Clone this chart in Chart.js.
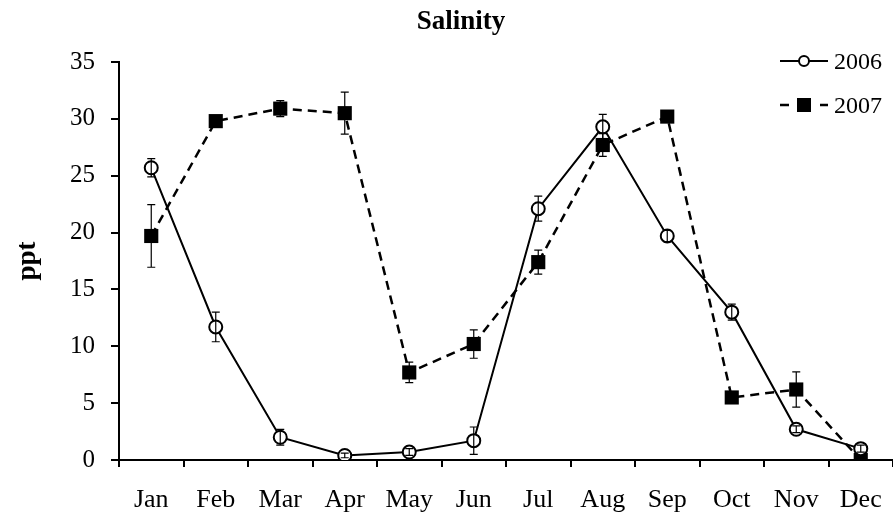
<!DOCTYPE html>
<html>
<head>
<meta charset="utf-8">
<style>
  html, body { margin: 0; padding: 0; background: #fff; }
  #wrap { width: 893px; height: 513px; }
</style>
</head>
<body>
<div id="wrap"><canvas id="salinityChart"></canvas></div>
<script src="https://cdn.jsdelivr.net/npm/chart.js"></script>
<script>
const months = ['Jan', 'Feb', 'Mar', 'Apr', 'May', 'Jun', 'Jul', 'Aug', 'Sep', 'Oct', 'Nov', 'Dec'];
const sal2006 = [25.7, 11.7, 2.0, 0.4, 0.7, 1.7, 22.1, 29.3, 19.7, 13.0, 2.7, 1.0];
const err2006 = [0.8, 1.3, 0.7, 0.2, 0.3, 1.2, 1.1, 1.1, 0.5, 0.7, 0.3, 0.3];
const sal2007 = [19.7, 29.8, 30.9, 30.5, 7.7, 10.2, 17.4, 27.7, 30.2, 5.5, 6.2, 0.0];
const err2007 = [2.75, 0.3, 0.7, 1.85, 0.9, 1.25, 1.05, 1.0, 0.2, 0.2, 1.55, 0.2];
const yTicks = [0, 5, 10, 15, 20, 25, 30, 35];

const serif = '"Liberation Serif", "Times New Roman", serif';

// error bars, drawn over the markers like the original
const errorBars = {
    id: 'errorBars',
    afterDatasetsDraw(chart) {
        const ctx = chart.ctx;
        const y = chart.scales.y;
        const errs = [err2006, err2007];
        ctx.save();
        ctx.strokeStyle = '#000';
        ctx.lineWidth = 1.2;
        chart.data.datasets.forEach((ds, i) => {
            chart.getDatasetMeta(i).data.forEach((pt, j) => {
                const e = errs[i][j];
                const top = y.getPixelForValue(ds.data[j] + e);
                const bot = y.getPixelForValue(Math.max(0, ds.data[j] - e));
                ctx.beginPath();
                ctx.moveTo(pt.x, top); ctx.lineTo(pt.x, bot);
                ctx.moveTo(pt.x - 4, top); ctx.lineTo(pt.x + 4, top);
                ctx.moveTo(pt.x - 4, bot); ctx.lineTo(pt.x + 4, bot);
                ctx.stroke();
            });
        });
        ctx.restore();
    }
};

// legend in the top right corner, inside the plot
const cornerLegend = {
    id: 'cornerLegend',
    afterDraw(chart) {
        const ctx = chart.ctx;
        const x0 = 780, x1 = 828;
        ctx.save();
        ctx.strokeStyle = '#000';
        ctx.fillStyle = '#000';
        ctx.font = '24px ' + serif;
        ctx.textBaseline = 'alphabetic';

        // 2006
        let yy = 61;
        ctx.lineWidth = 2;
        ctx.beginPath(); ctx.moveTo(x0, yy); ctx.lineTo(x1, yy); ctx.stroke();
        ctx.beginPath(); ctx.arc(804, yy, 5, 0, Math.PI * 2);
        ctx.fillStyle = '#fff'; ctx.fill(); ctx.stroke();
        ctx.fillStyle = '#000';
        ctx.fillText(chart.data.datasets[0].label, 834, 69);

        // 2007
        yy = 105;
        ctx.lineWidth = 2.5;
        ctx.beginPath();
        ctx.moveTo(x0, yy); ctx.lineTo(x0 + 9, yy);
        ctx.moveTo(x1 - 8, yy); ctx.lineTo(x1, yy);
        ctx.stroke();
        ctx.fillRect(797, yy - 7, 14, 14);
        ctx.fillText(chart.data.datasets[1].label, 834, 113);
        ctx.restore();
    }
};

const titleText = {
    id: 'titleText',
    afterDraw(chart) {
        const ctx = chart.ctx;
        ctx.save();
        ctx.fillStyle = '#000';
        ctx.font = 'bold 27px ' + serif;
        ctx.textAlign = 'center';
        ctx.textBaseline = 'alphabetic';
        ctx.fillText('Salinity', 461, 29);
        ctx.restore();
    }
};

new Chart(document.getElementById('salinityChart'), {
    type: 'line',
    data: {
        labels: months,
        datasets: [{
            label: '2006',
            data: sal2006,
            borderColor: '#000',
            borderWidth: 2,
            pointStyle: 'circle',
            pointRadius: 6.5,
            pointBorderWidth: 2,
            pointBackgroundColor: '#fff',
            pointBorderColor: '#000',
            tension: 0
        }, {
            label: '2007',
            data: sal2007,
            borderColor: '#000',
            borderWidth: 2.5,
            borderDash: [9, 6],
            pointStyle: 'rect',
            pointRadius: 10,
            pointBorderWidth: 0,
            pointBackgroundColor: '#000',
            pointBorderColor: '#000',
            tension: 0
        }]
    },
    options: {
        responsive: true,
        maintainAspectRatio: false,
        animation: false,
        layout: { autoPadding: false, padding: { top: 62, right: 0, bottom: 0, left: 0 } },
        plugins: {
            legend: { display: false },
            tooltip: { enabled: false },
            title: { display: false }
        },
        scales: {
            x: {
                offset: true,
                grid: {
                    offset: true,
                    drawOnChartArea: false,
                    color: '#000',
                    lineWidth: 2,
                    tickLength: 7
                },
                border: { color: '#000', width: 2 },
                ticks: {
                    color: '#000',
                    font: { family: serif, size: 26 },
                    padding: 18,
                    maxRotation: 0
                },
                afterFit(scale) {
                    scale.height = 53;
                    scale.paddingLeft = 0;
                    scale.paddingRight = 0;
                }
            },
            y: {
                min: 0,
                max: 35,
                afterBuildTicks(scale) { scale.ticks = yTicks.map(v => ({ value: v })); },
                grid: {
                    drawOnChartArea: false,
                    color: '#000',
                    lineWidth: 2,
                    tickLength: 8
                },
                border: { color: '#000', width: 2 },
                ticks: {
                    color: '#000',
                    font: { family: serif, size: 25 },
                    padding: 16
                },
                title: {
                    display: true,
                    text: 'ppt',
                    color: '#000',
                    font: { family: serif, size: 27, weight: 'bold' },
                    padding: { top: 12, bottom: 0 }
                },
                afterFit(scale) { scale.width = 119; }
            }
        }
    },
    plugins: [errorBars, cornerLegend, titleText]
});
</script>
</body>
</html>
